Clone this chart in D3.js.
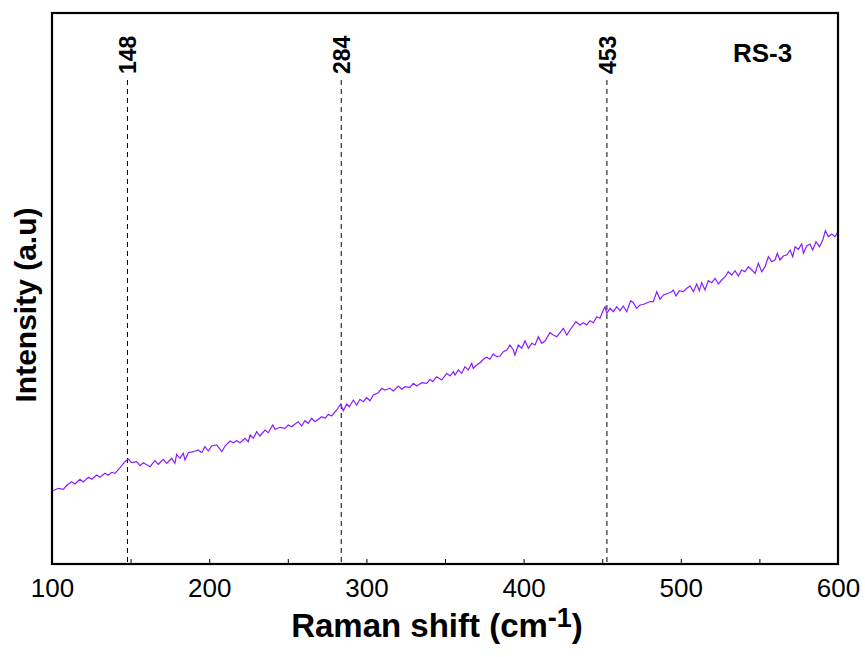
<!DOCTYPE html>
<html>
<head>
<meta charset="utf-8">
<script src="https://cdn.jsdelivr.net/npm/d3@7"></script>
<style>
  html, body { margin: 0; padding: 0; background: #fff; }
  svg { display: block; font-family: "Liberation Sans", Arial, sans-serif; }
</style>
</head>
<body>
<svg id="chart" width="865" height="657"></svg>
<script>
// Raman shift (cm^-1)
const shift = [
  100.4,104.0,107.2,109.4,112.5,114.6,117.8,119.9,123.1,125.3,128.4,130.5,133.7,135.8,138.0,140.1,143.3,146.4,148.5,150.7,
  153.9,156.0,158.1,162.3,165.5,167.6,170.8,173.0,176.1,178.2,179.3,181.4,183.5,184.6,186.7,189.9,193.1,195.2,197.3,199.4,
  201.6,204.8,208.0,210.1,213.2,215.3,217.5,219.6,222.8,224.9,226.0,228.1,230.2,232.3,235.5,237.6,240.4,241.9,245.0,248.2,
  250.3,252.5,254.6,256.7,258.8,260.9,263.0,265.2,267.3,269.4,271.6,273.7,275.8,277.9,281.1,283.7,285.3,287.5,289.1,291.7,
  293.8,295.9,298.0,300.2,302.3,304.4,307.6,309.7,311.8,315.0,317.1,320.3,322.5,324.6,327.7,329.8,332.0,335.2,338.4,340.5,
  342.2,344.7,347.9,351.1,353.2,355.3,356.4,358.5,360.6,362.7,364.8,367.0,368.0,370.2,372.3,374.4,376.5,378.6,380.7,382.9,
  385.0,387.1,389.3,391.3,393.5,394.5,396.6,398.8,400.9,403.0,405.2,407.3,409.4,411.5,413.6,416.8,418.9,421.1,423.2,425.3,
  427.5,429.5,433.3,435.9,438.0,440.1,442.2,444.4,446.5,448.6,450.7,451.8,452.9,455.0,457.1,459.2,461.3,463.4,465.6,468.1,
  469.8,471.9,474.0,476.1,478.3,480.4,482.5,484.7,486.8,488.9,492.1,494.2,495.2,497.0,499.1,501.6,503.8,505.9,508.0,510.1,
  511.8,513.3,515.4,517.5,519.7,521.8,523.9,526.0,528.2,530.2,532.4,534.5,536.6,538.7,540.8,543.0,545.2,547.3,549.3,551.5,
  553.6,555.7,557.8,559.9,561.4,563.1,565.2,567.4,569.5,571.2,572.7,574.8,576.9,578.0,580.1,582.2,583.9,586.0,588.2,590.3,
  592.0,593.9,596.0,598.1,600.0
];
// Intensity (a.u.)
const intensity = [
  73,75.7,74.7,78.7,82.3,80,84.7,82,86.7,84.7,89,86.7,90.7,88.7,91.7,90.7,96.3,102.3,105,101.3,
  102.3,98.3,101.3,97.3,103.3,99.7,104.7,100.7,105.7,100.7,109.7,105.7,110.7,104,111.3,112.3,114,111.3,117.3,113,
  118,119,112.3,118,123,121.3,123.3,121.3,125.7,122.3,129,125.7,132.3,128,134,131.3,139,134.7,136.7,135.7,
  139,137.3,140,142.3,138,143.3,140.7,145.7,142.3,144.7,147.3,145.7,149.7,148,154,160,153.3,160,157.3,164,
  159,164.7,162.3,166.3,163.3,169,171.3,175.7,174,175.7,173,178,174.7,177.3,176.7,180.7,178,181.3,180.7,184.7,
  182.3,187.3,184,190.7,188,192.3,189,194,190.7,197.3,194,200.7,195.7,199,201.3,204.7,206.7,204.7,210,207.3,
  208,212.3,214,219,214,209,219,215.7,223.3,215.7,220.7,219,227.3,220.7,223,231.3,229,227.3,231.3,235.7,
  229,234,242.3,239,241.3,239,243.3,241.3,247.3,245.7,254,257.3,250.7,255.7,252.3,257.3,253.3,258,252.3,263.3,
  261.3,255.7,259,259.5,261,262.5,262.3,272.3,264.7,269,270.7,272.3,274,268,273.3,272.3,275.7,278,272.3,280,
  273.3,281.3,274,283.3,281.3,285.7,280,284,287.3,292.3,289,293.3,288,294,292.3,297.3,294,290.7,300.7,292.3,
  297.3,307.3,302.3,304,310.7,304,308,309,314,307.3,317.3,314.7,320,310.7,318,320,314,322.3,317.3,324,
  333.3,327.3,330,327.3,332.3
];
const peaks = [148, 284, 453];
const xTicks = [100,150,200,250,300,350,400,450,500,550,600];

const svg = d3.select("#chart");
const L = 52, R = 838, T = 13, B = 564;

const x = d3.scaleLinear().domain([100, 600]).range([L, R]);
const y = d3.scaleLinear().domain([0, 551]).range([B, T]);

// peak marker lines
svg.append("g").selectAll("line").data(peaks).join("line")
  .attr("x1", d => x(d)).attr("x2", d => x(d))
  .attr("y1", 80).attr("y2", B)
  .attr("stroke", "#000").attr("stroke-width", 1)
  .attr("stroke-dasharray", "5,4");

// peak labels
svg.append("g").selectAll("text").data(peaks).join("text")
  .attr("transform", d => `translate(${x(d) + 9},74) rotate(-90)`)
  .attr("text-anchor", "start")
  .attr("font-size", 23).attr("font-weight", "bold")
  .text(d => d);

// spectrum
const data = shift.map((s, i) => [s, intensity[i]]);
svg.append("path").datum(data)
  .attr("fill", "none")
  .attr("stroke", "#8a1cff")
  .attr("stroke-width", 1.2)
  .attr("d", d3.line().x(d => x(d[0])).y(d => y(d[1])));

// x axis
const xAxis = d3.axisBottom(x)
  .tickValues(xTicks)
  .tickSizeInner(-5).tickSizeOuter(0)
  .tickPadding(14.5)
  .tickFormat(d => d % 100 === 0 ? d : "");
const gx = svg.append("g").attr("transform", `translate(0,${B})`).call(xAxis);
gx.select(".domain").remove();
gx.selectAll(".tick line").attr("stroke", "#000").attr("stroke-width", 1);
gx.selectAll(".tick text").attr("font-size", 26).attr("fill", "#000")
  .attr("font-family", "'Liberation Sans', Arial, sans-serif");

// frame
svg.append("rect")
  .attr("x", L).attr("y", T).attr("width", R - L).attr("height", B - T)
  .attr("fill", "none").attr("stroke", "#000").attr("stroke-width", 2.2);

// sample label
svg.append("text").attr("x", 733).attr("y", 62)
  .attr("font-size", 26).attr("font-weight", "bold").text("RS-3");

// x title
const xt = svg.append("text").attr("x", 437).attr("y", 637)
  .attr("text-anchor", "middle").attr("font-size", 33).attr("font-weight", "bold");
xt.append("tspan").text("Raman shift (cm");
xt.append("tspan").attr("font-size", 27).attr("dy", -10).text("-1");
xt.append("tspan").attr("dy", 10).text(")");

// y title
svg.append("text")
  .attr("transform", "translate(36,305) rotate(-90)")
  .attr("text-anchor", "middle").attr("font-size", 30).attr("font-weight", "bold")
  .text("Intensity (a.u)");
</script>
</body>
</html>
